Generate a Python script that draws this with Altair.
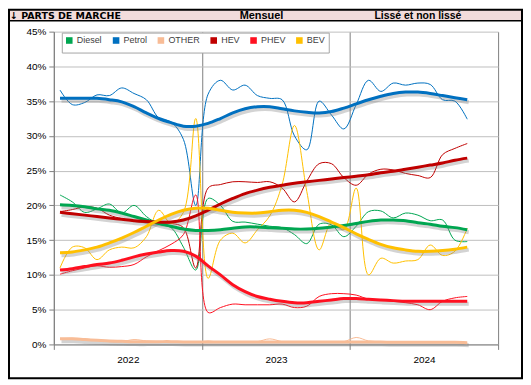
import altair as alt
import pandas as pd

# ---------------- data ----------------
years = ["2022", "2023", "2024"]
n_months = 34  # Jan 2022 .. Oct 2024
series_names = ["Diesel", "Petrol", "OTHER", "HEV", "PHEV", "BEV"]
series_colors = ["#00A651", "#0070C0", "#F8BC96", "#C00000", "#FF1020", "#FFC000"]
header_texts = ["\u2193 PARTS DE MARCHE", "Mensuel", "Lissé et non lissé"]

diesel_raw = [21.5, 20.5, 19.0, 19.5, 20.2, 18.9, 20.0, 18.4, 17.3, 16.8,
              14.0, 10.7, 21.0, 20.0, 17.7, 17.6, 17.3, 17.0, 16.8, 15.8,
              14.5, 17.3, 17.2, 15.5, 17.0, 19.1, 19.2, 18.2, 18.9, 18.6,
              17.8, 17.9, 15.0, 14.8]
diesel_smooth = [20.1, 20.0, 19.8, 19.5, 19.3, 18.9, 18.4, 17.9, 17.4, 17.0,
                 16.6, 16.4, 16.4, 16.5, 16.7, 16.9, 16.9, 16.8, 16.7, 16.6,
                 16.6, 16.7, 16.9, 17.1, 17.4, 17.7, 17.9, 17.9, 17.8, 17.5,
                 17.3, 17.0, 16.8, 16.5]

petrol_raw = [36.6, 34.5, 34.8, 35.9, 35.8, 36.9, 36.1, 35.2, 32.6, 32.0,
              29.5, 20.0, 36.0, 38.0, 36.6, 37.3, 35.8, 35.4, 35.2, 30.0,
              28.0, 35.0, 33.0, 31.0, 34.5, 38.0, 36.4, 37.6, 37.3, 37.6,
              37.4, 35.2, 35.0, 32.4]
petrol_smooth = [35.4, 35.4, 35.4, 35.4, 35.2, 34.9, 34.2, 33.3, 32.5, 31.9,
                 31.4, 31.4, 31.8, 32.5, 33.3, 33.9, 34.2, 34.2, 33.9, 33.6,
                 33.4, 33.3, 33.5, 34.0, 34.6, 35.2, 35.7, 36.1, 36.3, 36.3,
                 36.1, 35.8, 35.5, 35.2]

other_raw = [0.8, 0.9, 0.8, 0.6, 0.4, 0.4, 0.7, 0.5, 0.4, 0.4,
             0.3, 0.3, 0.5, 0.3, 0.3, 0.3, 0.4, 0.8, 0.4, 0.3,
             0.3, 0.3, 0.4, 0.4, 1.0, 0.5, 0.4, 0.3, 0.3, 0.3,
             0.4, 0.3, 0.3, 0.2]
other_smooth = [0.8, 0.8, 0.7, 0.6, 0.5, 0.45, 0.4, 0.4, 0.4, 0.4,
                0.35, 0.35, 0.35, 0.35, 0.35, 0.35, 0.35, 0.35, 0.35, 0.35,
                0.35, 0.35, 0.35, 0.35, 0.35, 0.35, 0.35, 0.3, 0.3, 0.3,
                0.3, 0.3, 0.3, 0.25]

hev_raw = [19.1, 19.4, 19.8, 19.6, 18.6, 18.1, 17.7, 17.5, 17.4, 17.4,
           16.8, 11.0, 22.5, 23.0, 23.4, 23.4, 23.3, 23.4, 22.5, 20.5,
           23.5, 26.0, 26.0, 24.0, 22.9, 24.5, 25.2, 25.1, 24.6, 24.3,
           24.0, 27.3, 28.2, 28.9]
hev_smooth = [19.0, 18.8, 18.6, 18.4, 18.2, 18.0, 17.8, 17.7, 17.6, 17.6,
              17.9, 18.5, 19.3, 20.2, 21.0, 21.7, 22.2, 22.6, 22.9, 23.2,
              23.4, 23.6, 23.8, 24.0, 24.2, 24.4, 24.7, 24.9, 25.2, 25.5,
              25.8, 26.1, 26.5, 26.8]

phev_raw = [10.1, 10.6, 11.0, 11.3, 11.1, 11.2, 11.5, 12.6, 13.5, 14.4,
            15.8, 21.5, 4.6, 5.3, 5.8, 5.7, 5.7, 5.7, 5.8, 5.3,
            5.5, 6.9, 7.3, 7.3, 7.1, 6.5, 6.4, 6.2, 6.0, 5.7,
            5.0, 6.2, 6.7, 6.9]
phev_smooth = [10.7, 10.9, 11.2, 11.5, 11.7, 12.1, 12.6, 13.0, 13.3, 13.5,
               13.4, 12.7, 11.3, 10.0, 8.6, 7.6, 6.9, 6.5, 6.2, 6.0,
               6.0, 6.2, 6.4, 6.6, 6.6, 6.5, 6.4, 6.3, 6.2, 6.2,
               6.2, 6.2, 6.2, 6.2]

bev_raw = [11.0, 14.0, 13.9, 12.2, 13.6, 14.0, 13.9, 15.5, 19.3, 17.4,
           19.0, 32.5, 9.5, 15.0, 16.0, 14.6, 16.5, 18.5, 23.0, 31.5,
           22.0, 13.6, 17.5, 16.5, 22.5, 10.0, 12.4, 11.7, 12.0, 12.2,
           14.3, 12.8, 13.4, 16.7]
bev_smooth = [13.2, 13.3, 13.6, 14.0, 14.6, 15.3, 16.1, 17.0, 17.9, 18.7,
              19.3, 19.6, 19.6, 19.3, 19.0, 18.9, 18.9, 19.1, 19.3, 19.3,
              19.0, 18.4, 17.6, 16.8, 15.9, 15.1, 14.4, 13.9, 13.6, 13.4,
              13.4, 13.5, 13.7, 14.0]

raw_by_series = [diesel_raw, petrol_raw, other_raw, hev_raw, phev_raw, bev_raw]
smooth_by_series = [diesel_smooth, petrol_smooth, other_smooth, hev_smooth, phev_smooth, bev_smooth]

rows = []
for name, raw, smooth in zip(series_names, raw_by_series, smooth_by_series):
    for i in range(n_months):
        rows.append({"series": name, "kind": "raw", "pos": i + 0.5, "value": raw[i], "order": i})
        rows.append({"series": name, "kind": "smooth", "pos": i + 0.5, "value": smooth[i], "order": i})
df = pd.DataFrame(rows)
df_raw = df[df.kind == "raw"]
df_smooth = df[df.kind == "smooth"]

# ---------------- chart ----------------
W, H = 446, 314
FONT = "Liberation Sans, DejaVu Sans"
slots = 12 * len(years)

label_expr = " : ".join(
    [f"datum.value == {12 * k} ? '{y}'" for k, y in enumerate(years)]
) + " : ''"

x_enc = alt.X(
    "pos:Q",
    scale=alt.Scale(domain=[0, slots], nice=False, zero=False),
    axis=alt.Axis(
        values=[0, 12, 24, 36], labelExpr=label_expr, labelOffset=W / 3 / 2,
        labelFlush=False, labelOverlap=False, labelBound=False,
        grid=True, gridColor="#808080", gridWidth=1,
        domainColor="#808080", tickColor="#808080", tickSize=5,
        labelPadding=5, labelFont=FONT, labelFontSize=10, labelColor="#000000",
        title=None,
    ),
)
y_enc = alt.Y(
    "value:Q",
    scale=alt.Scale(domain=[0, 45], nice=False),
    axis=alt.Axis(
        values=list(range(0, 50, 5)), labelExpr="datum.value + '%'",
        grid=True, gridColor="#BFBFBF", gridWidth=1,
        domainColor="#808080", tickColor="#808080", tickSize=5,
        labelPadding=3, labelFont=FONT, labelFontSize=10, labelColor="#000000",
        title=None,
    ),
)
color_scale = alt.Scale(domain=series_names, range=series_colors)

legend = alt.Legend(
    orient="none", legendX=8, legendY=1, direction="horizontal", columns=6,
    title=None, symbolType="square", symbolSize=9, symbolStrokeWidth=3.6,
    labelFont=FONT, labelFontSize=9, labelColor="#404040", labelOffset=3,
    fillColor="white", strokeColor="#A6A6A6", padding=3, columnPadding=4,
)

thin = alt.Chart(df_raw).mark_line(strokeWidth=1, interpolate="catmull-rom").encode(
    x=x_enc, y=y_enc, order="order:Q",
    color=alt.Color("series:N", scale=color_scale, legend=legend),
)
shadow = alt.Chart(df_smooth).mark_line(
    strokeWidth=4, color="#808080", opacity=0.35, xOffset=1.5, yOffset=2.5,
    interpolate="catmull-rom",
).encode(x=x_enc, y=y_enc, order="order:Q", detail="series:N")
thick = alt.Chart(df_smooth).mark_line(strokeWidth=3, interpolate="catmull-rom").encode(
    x=x_enc, y=y_enc, order="order:Q",
    color=alt.Color("series:N", scale=color_scale, legend=legend),
)

one = pd.DataFrame({"k": [0]})
header_band = alt.Chart(one).mark_rect(fill="#F2DCDB").encode(
    x=alt.value(-45), x2=alt.value(470), y=alt.value(-22), y2=alt.value(-11)
)
header_line = alt.Chart(one).mark_rule(color="black", strokeWidth=1.5).encode(
    x=alt.value(-45), x2=alt.value(470), y=alt.value(-11)
)
title_left = alt.Chart(one).mark_text(
    align="left", baseline="middle", font="DejaVu Sans", fontSize=9.5, fontWeight="bold", color="#000"
).encode(x=alt.value(-44), y=alt.value(-16), text=alt.value(header_texts[0]))
title_mid = alt.Chart(one).mark_text(
    align="center", baseline="middle", font=FONT, fontSize=11, fontWeight="bold", color="#000"
).encode(x=alt.value(208.5), y=alt.value(-16), text=alt.value(header_texts[1]))
title_right = alt.Chart(one).mark_text(
    align="center", baseline="middle", font=FONT, fontSize=10.5, fontWeight="bold", color="#000"
).encode(x=alt.value(365.5), y=alt.value(-16), text=alt.value(header_texts[2]))
frame = alt.Chart(one).mark_rect(fill="transparent", stroke="black", strokeWidth=2).encode(
    x=alt.value(-45), x2=alt.value(470), y=alt.value(-22), y2=alt.value(348)
)

chart = alt.layer(
    header_band, header_line, title_left, title_mid, title_right,
    thin, shadow, thick, frame,
).properties(
    width=W, height=H,
    autosize=alt.AutoSizeParams(type="none"),
    padding={"left": 46, "top": 23, "right": 25, "bottom": 35},
    background="white",
).configure_view(stroke=None)

chart.save("out.html", embed_options={"renderer": "svg", "actions": False})
